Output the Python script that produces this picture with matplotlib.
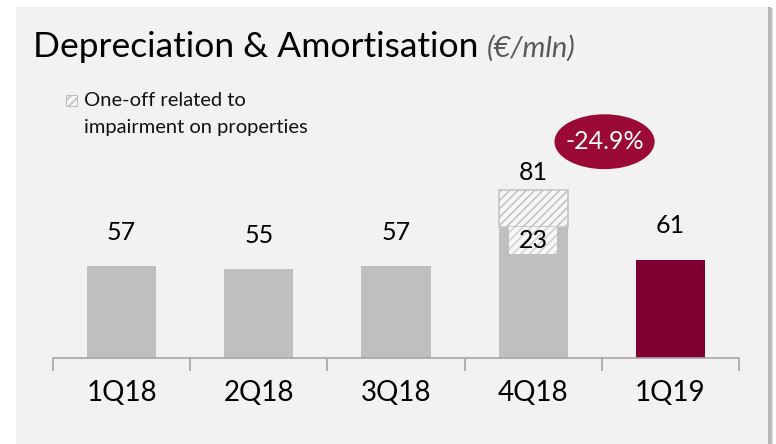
import matplotlib
matplotlib.use("Agg")
import matplotlib.pyplot as plt
from matplotlib.patches import Rectangle, Ellipse

plt.rcParams['font.family'] = ['Lato', 'DejaVu Sans']
plt.rcParams['hatch.color'] = '#cfcfcf'
plt.rcParams['hatch.linewidth'] = 1.2

# data
quarters = ["1Q18", "2Q18", "3Q18", "4Q18", "1Q19"]
values = [57, 55, 57, 81, 61]
one_off = [0, 0, 0, 23, 0]
change_label = "-24.9%"

W, H = 776, 444
fig = plt.figure(figsize=(W / 100, H / 100), dpi=100)
fig.patch.set_facecolor('white')

# panel with a soft shadow on the right
for i, c in enumerate(['#d9d9d9', '#c8c8c8', '#b8b8b8']):
    fig.patches.append(Rectangle(((16 + 3 - i) / W, 0), (752 + 2) / W, (437 - 2 + i) / H,
                                 transform=fig.transFigure, facecolor=c,
                                 edgecolor='none', zorder=-2))
fig.patches.append(Rectangle((16 / W, 0), 752 / W, 437 / H, transform=fig.transFigure,
                             facecolor='#f2f2f2', edgecolor='none', zorder=-1))

ax = fig.add_axes([53 / W, (H - 358) / H, 686 / W, 298 / H])
ax.set_zorder(2)
ax.set_facecolor('none')
ax.set_xlim(-0.5, len(quarters) - 0.5)
ax.set_ylim(0, 298 / 1.614)

x = list(range(len(quarters)))
colors = ['#bfbfbf'] * 4 + ['#7f0030']
ax.bar(x, values, width=0.505, color=colors, zorder=2)

# one-off part stacked on top (only where there is one)
oo_x = [xi for xi, o in zip(x, one_off) if o]
oo_h = [o for o in one_off if o]
oo_b = [v for v, o in zip(values, one_off) if o]
ax.bar(oo_x, oo_h, bottom=oo_b, width=0.505, color='#f7f7f7', hatch='////',
       edgecolor='#c4c4c4', linewidth=1.2, zorder=2)

for xi, v, o in zip(x, values, one_off):
    top = v + o
    off = 11 if o else 21
    ax.text(xi, top + off, str(v), ha='center', va='center',
            fontsize=18, color='black')
    if o:
        # hatched label box for the one-off amount, hanging below the bar top
        ax.add_patch(Rectangle((xi - 0.175, v - 16.5), 0.35, 16.5,
                               facecolor='#f7f7f7', edgecolor='#d2d2d2',
                               linewidth=0, hatch='////', zorder=3))
        ax.text(xi, v - 8.5, str(o), ha='center', va='center', fontsize=18,
                color='black', zorder=4)

ax.spines[['top', 'left', 'right']].set_visible(False)
ax.spines['bottom'].set_color('#a6a6a6')
ax.spines['bottom'].set_linewidth(1.2)
ax.set_yticks([])
ax.set_xticks([i - 0.5 for i in range(len(quarters) + 1)])
ax.set_xticklabels([])
ax.tick_params(axis='x', length=9, color='#a6a6a6', width=1.2)
ax.set_xticks(x, minor=True)
ax.set_xticklabels(quarters, minor=True, fontsize=20)
ax.tick_params(axis='x', which='minor', length=0, pad=16)

# title
fig.text(33 / W, (H - 47) / H, "Depreciation & Amortisation", fontsize=25.5,
         va='center', ha='left', color='black')
fig.text(487 / W, (H - 48) / H, "(€/mln)", fontsize=21, style='italic',
         va='center', ha='left', color='#595959')

# legend
fig.patches.append(Rectangle((66 / W, (H - 106) / H), 11 / W, 11 / H,
                             transform=fig.transFigure, facecolor='#f7f7f7',
                             edgecolor='#bfbfbf', hatch='////', linewidth=0.8))
fig.text(84 / W, (H - 100) / H, "One-off related to", fontsize=14.5,
         va='center', ha='left', color='#111111')
fig.text(84 / W, (H - 127) / H, "impairment on properties", fontsize=14.5,
         va='center', ha='left', color='#111111')

# change bubble
ax.add_patch(Ellipse((3.52, 134), 0.73, 34, facecolor='#9b0a35',
                     edgecolor='none', zorder=3, clip_on=False))
ax.text(3.52, 134, change_label, ha='center', va='center', fontsize=18,
        color='white', zorder=4)

fig.savefig("out.png", dpi=100, facecolor=fig.get_facecolor())
